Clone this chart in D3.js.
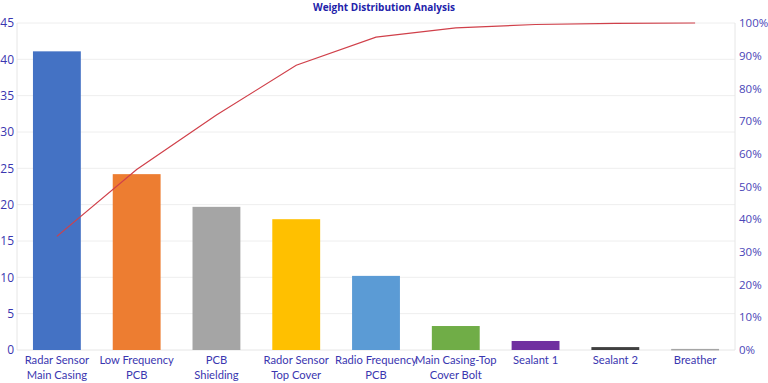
<!DOCTYPE html>
<html><head><meta charset="utf-8">
<script src="https://cdn.jsdelivr.net/npm/d3@7"></script>
<style>body{margin:0;background:#fff;} svg{display:block;font-family:"Open Sans","Noto Sans",sans-serif;}</style>
</head><body><svg id="c" width="768" height="383"></svg>
<script>
const categories = [["Radar Sensor","Main Casing"],["Low Frequency","PCB"],["PCB","Shielding"],["Rador Sensor","Top Cover"],["Radio Frequency","PCB"],["Main Casing-Top","Cover Bolt"],["Sealant 1"],["Sealant 2"],["Breather"]];
const weights = [41.1, 24.2, 19.7, 18.0, 10.2, 3.3, 1.24, 0.4, 0.15];
const barColors = ["#4472C4","#ED7D31","#A5A5A5","#FFC000","#5B9BD5","#70AD47","#7030A0","#404040","#A5A5A5"];
const leftTicks = [0,5,10,15,20,25,30,35,40,45];
const rightTicks = [0,0.1,0.2,0.3,0.4,0.5,0.6,0.7,0.8,0.9,1];

const total = d3.sum(weights);
let acc = 0;
const cumulative = weights.map(w => (acc += w) / total);

const svg = d3.select("#c");
const m = {l:17, r:33, t:23, b:33};
const W = 768, H = 383;
const x = d3.scaleBand().domain(d3.range(weights.length)).range([m.l, W-m.r]).paddingInner(0.4).paddingOuter(0.2);
const y = d3.scaleLinear().domain([0,45]).range([H-m.b, m.t]);
const y2 = d3.scaleLinear().domain([0,1]).range([H-m.b, m.t]);
const txt = "#3a36b0";

svg.append("text").attr("x",384).attr("y",11).attr("text-anchor","middle")
  .attr("font-size",10).attr("font-weight","bold").attr("fill","#2222aa").text("Weight Distribution Analysis");

// gridlines
svg.append("g").selectAll("line").data(leftTicks.slice(1)).join("line")
  .attr("x1",m.l).attr("x2",W-m.r).attr("y1",d=>y(d)).attr("y2",d=>y(d))
  .attr("stroke","#eeeeee").attr("stroke-width",1);
svg.append("line").attr("x1",m.l).attr("x2",m.l).attr("y1",m.t).attr("y2",H-m.b).attr("stroke","#e6e6e6");
svg.append("line").attr("x1",W-m.r).attr("x2",W-m.r).attr("y1",m.t).attr("y2",H-m.b).attr("stroke","#e6e6e6");
svg.append("line").attr("x1",m.l).attr("x2",W-m.r).attr("y1",H-m.b).attr("y2",H-m.b).attr("stroke","#e6e6e6");

// left axis
const gl = svg.append("g").attr("transform",`translate(${m.l},0)`)
  .call(d3.axisLeft(y).tickValues(leftTicks).tickSize(0).tickPadding(3));
gl.select(".domain").remove();
gl.selectAll("text").attr("fill",txt).attr("font-size",12).attr("font-family","'Open Sans','Noto Sans',sans-serif");

// right axis
const gr = svg.append("g").attr("transform",`translate(${W-m.r},0)`)
  .call(d3.axisRight(y2).tickValues(rightTicks).tickFormat(d3.format(".0%")).tickSize(0).tickPadding(4));
gr.select(".domain").remove();
gr.selectAll("text").attr("fill","#4a46b8").attr("font-size",11.5).attr("font-family","'Open Sans','Noto Sans',sans-serif");

// bars
svg.append("g").selectAll("rect").data(weights).join("rect")
  .attr("x",(d,i)=>x(i)).attr("width",x.bandwidth())
  .attr("y",d=>y(d)).attr("height",d=>Math.max(1.5, y(0)-y(d)))
  .attr("fill",(d,i)=>barColors[i]);

// category labels
const gx = svg.append("g");
categories.forEach((lines,i)=>{
  const t = gx.append("text").attr("x",x(i)+x.bandwidth()/2).attr("y",H-m.b+14)
    .attr("text-anchor","middle").attr("fill",txt).attr("font-size",11.2)
    .attr("font-family","Lato,'Open Sans',sans-serif");
  lines.forEach((s,j)=>t.append("tspan").attr("x",x(i)+x.bandwidth()/2).attr("dy",j?15:0).text(s));
});

// cumulative line
svg.append("path").datum(cumulative)
  .attr("d",d3.line().x((d,i)=>x(i)+x.bandwidth()/2).y(d=>y2(d)))
  .attr("fill","none").attr("stroke","#d0404a").attr("stroke-width",1.2);
</script></body></html>
